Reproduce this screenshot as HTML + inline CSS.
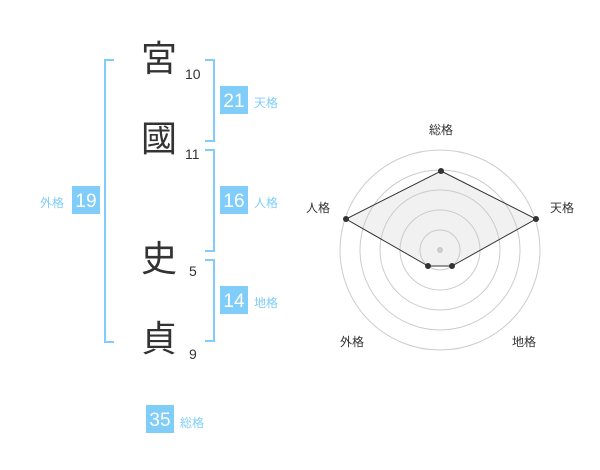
<!DOCTYPE html>
<html><head><meta charset="utf-8"><style>
body{margin:0;width:600px;height:470px;background:#fff;position:relative;overflow:hidden;font-family:"Liberation Sans","Noto Sans CJK JP",sans-serif}
.k{position:absolute;font-size:36px;line-height:36px;color:#333;width:36px;text-align:center}
.n{position:absolute;font-size:14px;color:#333;line-height:14px}
.b{position:absolute;background:#7fcdf8;color:#fff;font-size:19px;line-height:31px;width:28px;height:28px;text-align:center}
.l{position:absolute;font-size:12px;color:#7fcdf8;line-height:12px}
.br{position:absolute;border:2px solid #7fcdf8}
</style></head><body>
<div class="k" style="left:141px;top:41px">宮</div>
<div class="k" style="left:141px;top:121px">國</div>
<div class="k" style="left:141px;top:241px">史</div>
<div class="k" style="left:141px;top:321px">貞</div>
<div class="n" style="left:185px;top:67px">10</div>
<div class="n" style="left:185px;top:147px">11</div>
<div class="n" style="left:189px;top:264px">5</div>
<div class="n" style="left:189px;top:347px">9</div>
<div class="br" style="left:104px;top:59px;width:8px;height:280px;border-right:none"></div>
<div class="br" style="left:205px;top:59px;width:8px;height:79px;border-left:none"></div>
<div class="br" style="left:205px;top:149px;width:8px;height:99px;border-left:none"></div>
<div class="br" style="left:205px;top:259px;width:8px;height:79px;border-left:none"></div>
<div class="b" style="left:220px;top:86px">21</div><div class="l" style="left:254px;top:97px">天格</div>
<div class="b" style="left:220px;top:186px">16</div><div class="l" style="left:254px;top:197px">人格</div>
<div class="b" style="left:220px;top:286px">14</div><div class="l" style="left:254px;top:297px">地格</div>
<div class="b" style="left:72px;top:186px">19</div><div class="l" style="left:40px;top:197px">外格</div>
<div class="b" style="left:146px;top:405px">35</div><div class="l" style="left:180px;top:417px">総格</div>
<svg style="position:absolute;left:0;top:0" width="600" height="470">
<g fill="none" stroke="#ccc" stroke-width="1">
<circle cx="440" cy="250" r="100"/><circle cx="440" cy="250" r="80"/><circle cx="440" cy="250" r="60"/><circle cx="440" cy="250" r="40"/><circle cx="440" cy="250" r="20"/>
</g>
<circle cx="440" cy="250" r="3" fill="#ccc"/>
<polygon points="441,171 536,219 452,266 428,266 346,219" fill="rgba(200,200,200,0.25)" stroke="#333" stroke-width="1"/>
<g fill="#333"><circle cx="441" cy="171" r="3"/><circle cx="536" cy="219" r="3"/><circle cx="452" cy="266" r="3"/><circle cx="428" cy="266" r="3"/><circle cx="346" cy="219" r="3"/></g>
<g font-size="12" fill="#333" font-family="Liberation Sans,Noto Sans CJK JP,sans-serif">
<text x="441" y="134" text-anchor="middle">総格</text>
<text x="562" y="212" text-anchor="middle">天格</text>
<text x="318" y="212" text-anchor="middle">人格</text>
<text x="352" y="346" text-anchor="middle">外格</text>
<text x="524" y="346" text-anchor="middle">地格</text>
</g>
</svg>
</body></html>
